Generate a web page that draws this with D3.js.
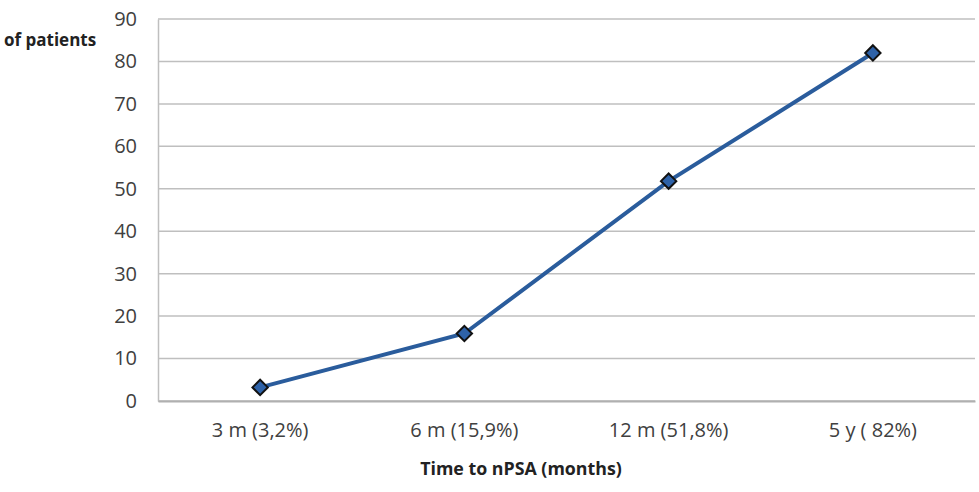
<!DOCTYPE html>
<html>
<head>
<meta charset="utf-8">
<script src="https://cdn.jsdelivr.net/npm/d3@7"></script>
<style>
  body { margin: 0; background: #fff; }
  text { font-family: "Open Sans", sans-serif; }
</style>
</head>
<body>
<svg></svg>
<script>
// chart data
let categories = ["3 m (3,2%)", "6 m (15,9%)", "12 m (51,8%)", "5 y ( 82%)"];
let values = [3.2, 15.9, 51.8, 82];
let yTicks = [0, 10, 20, 30, 40, 50, 60, 70, 80, 90];

let svgWidth = 979, svgHeight = 492;
let plotLeft = 158, plotRight = 975, plotTop = 19, plotBottom = 401;

let svg = d3.select("svg")
  .attr("width", svgWidth)
  .attr("height", svgHeight);

let xScale = d3.scaleBand()
  .domain(categories)
  .range([plotLeft, plotRight]);

let yScale = d3.scaleLinear()
  .domain([0, 90])
  .range([plotBottom, plotTop]);

// gridlines
svg.selectAll("line.grid")
  .data(yTicks)
  .enter()
  .append("line")
  .attr("class", "grid")
  .attr("x1", plotLeft)
  .attr("x2", plotRight)
  .attr("y1", d => yScale(d))
  .attr("y2", d => yScale(d))
  .attr("stroke", "#bfbfbf")
  .attr("stroke-width", 1.5);

// y axis
let yAxis = d3.axisLeft(yScale).tickValues(yTicks).tickSize(0).tickPadding(21);
let gy = svg.append("g")
  .attr("transform", "translate(" + plotLeft + ",0)")
  .call(yAxis);
gy.select(".domain").attr("stroke", "#bfbfbf").attr("stroke-width", 1.5);
gy.selectAll("text").attr("font-size", 20).attr("fill", "#404040")
  .attr("font-family", "Open Sans, sans-serif");

// x axis
let xAxis = d3.axisBottom(xScale).tickSize(0).tickPadding(22);
let gx = svg.append("g")
  .attr("transform", "translate(0," + plotBottom + ")")
  .call(xAxis);
gx.select(".domain").attr("stroke", "#b0b0b0").attr("stroke-width", 2);
gx.selectAll("text").attr("font-size", 20).attr("fill", "#404040")
  .attr("font-family", "Open Sans, sans-serif");

// line
let line = d3.line()
  .x((d, i) => xScale(categories[i]) + xScale.bandwidth() / 2)
  .y(d => yScale(d));

svg.append("path")
  .datum(values)
  .attr("d", line)
  .attr("fill", "none")
  .attr("stroke", "#2a5c9c")
  .attr("stroke-width", 4);

// markers
svg.selectAll("path.marker")
  .data(values)
  .enter()
  .append("path")
  .attr("class", "marker")
  .attr("d", d3.symbol().type(d3.symbolDiamond2).size(150))
  .attr("transform", (d, i) => "translate(" + (xScale(categories[i]) + xScale.bandwidth() / 2) + "," + yScale(d) + ")")
  .attr("fill", "#2e62a8")
  .attr("stroke", "#111")
  .attr("stroke-width", 2);

// labels
svg.append("text")
  .attr("x", 4)
  .attr("y", 46)
  .attr("font-size", 17)
  .attr("font-weight", "bold")
  .attr("fill", "#222")
  .text("of patients");

svg.append("text")
  .attr("x", 521)
  .attr("y", 475)
  .attr("text-anchor", "middle")
  .attr("font-size", 17.8)
  .attr("font-weight", "bold")
  .attr("fill", "#222")
  .text("Time to nPSA (months)");
</script>
</body>
</html>
